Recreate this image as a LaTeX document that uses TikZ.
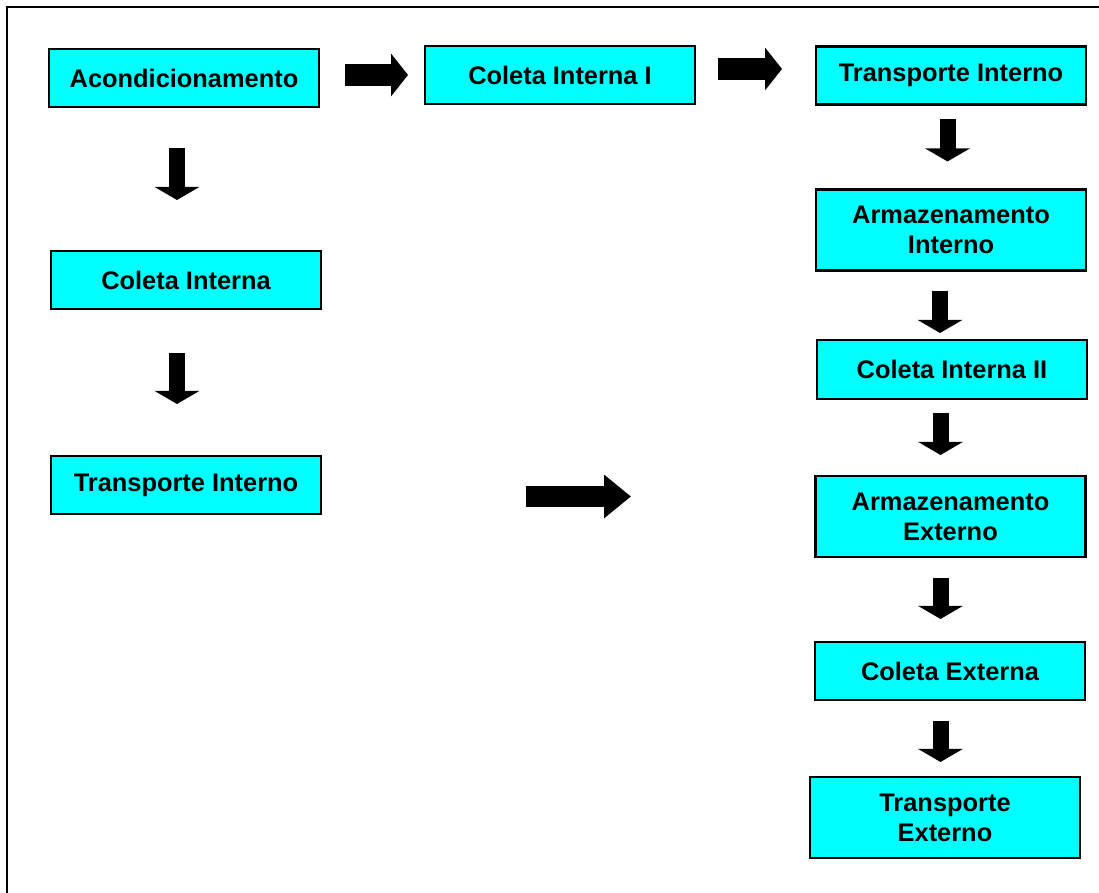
\documentclass[tikz,border=0pt]{standalone}
\usepackage{fontspec}
\setmainfont{Liberation Sans}
\usetikzlibrary{arrows.meta}
\tikzset{
  stageBox/.style={draw=drawColor,fill=fillColor,line width=1.1pt,minimum width=135pt,minimum height=29pt,inner sep=0pt,outer sep=0pt,align=center,font=\fontsize{12.7}{15}\selectfont\bfseries},
  tallBox/.style={stageBox,minimum height=40.5pt},
  blockDown/.style={draw=drawColor,line width=8pt,-{Triangle[width=22pt,length=6.5pt]}},
  blockRight/.style={draw=drawColor,line width=11pt,-{Triangle[width=21pt,length=8.5pt]}}
}
\begin{document}
\begin{tikzpicture}[x=1pt,y=1pt]
\definecolor{fillColor}{RGB}{0,255,255}
\definecolor{drawColor}{RGB}{0,0,0}
\path[use as bounding box,fill=white] (0,0) rectangle (549.50,446.50);
\begin{scope}
\path[clip] (  0.00,  0.00) rectangle (549.50,446.50);

\path[draw=drawColor,line width= 1pt] (  3.60,-10.00) rectangle (560.00,442.75);
\end{scope}

% left column
\node[stageBox] (acond) at ( 92.00,407.50) {Acondicionamento};
\node[stageBox] (colInt) at ( 93.00,306.50) {Coleta Interna};
\node[stageBox] (transIntL) at ( 93.00,204.00) {Transporte Interno};

% top row
\node[stageBox] (colIntI) at (280.00,409.00) {Coleta Interna I};

% right column
\node[stageBox] (transInt) at (475.50,408.75) {Transporte Interno};
\node[tallBox] (armInt) at (475.50,331.50) {Armazenamento\\Interno};
\node[stageBox,minimum height=29.5pt] (colIntII) at (476.00,261.75) {Coleta Interna II};
\node[tallBox] (armExt) at (475.25,188.25) {Armazenamento\\Externo};
\node[stageBox] (colExt) at (475.00,111.00) {Coleta Externa};
\node[tallBox] (transExt) at (472.50, 37.75) {Transporte\\Externo};

% block arrows
\draw[blockRight] ([xshift=13pt,yshift=1.5pt]acond.east) -- ([xshift=-8.5pt]colIntI.west);
\draw[blockRight] ([xshift=11.5pt,yshift=3pt]colIntI.east) -- ([xshift=-17pt,yshift=3.25pt]transInt.west);
\draw[blockRight,line width=10.5pt,-{Triangle[width=21pt,length=13.5pt]}] ([xshift=102.5pt,yshift=-5.75pt]transIntL.east) -- ([xshift=-92.25pt,yshift=10pt]armExt.west);

\draw[blockDown] ([xshift=-3.5pt,yshift=-20.5pt]acond.south) -- ([xshift=-4.5pt,yshift=25.5pt]colInt.north);
\draw[blockDown] ([xshift=-4.5pt,yshift=-22pt]colInt.south) -- ([xshift=-4.5pt,yshift=26pt]transIntL.north);

\draw[blockDown] ([xshift=-1.75pt,yshift=-7.25pt]transInt.south) -- ([xshift=-1.75pt,yshift=14pt]armInt.north);
\draw[blockDown] ([xshift=-5.5pt,yshift=-10.5pt]armInt.south) -- ([xshift=-6pt,yshift=3.5pt]colIntII.north);
\draw[blockDown] ([xshift=-5.75pt,yshift=-7pt]colIntII.south) -- ([xshift=-5pt,yshift=10.5pt]armExt.north);
\draw[blockDown] ([xshift=-5pt,yshift=-10.5pt]armExt.south) -- ([xshift=-4.75pt,yshift=11.5pt]colExt.north);
\draw[blockDown] ([xshift=-4.75pt,yshift=-10.5pt]colExt.south) -- ([xshift=-2.25pt,yshift=7.5pt]transExt.north);
\end{tikzpicture}
\end{document}
